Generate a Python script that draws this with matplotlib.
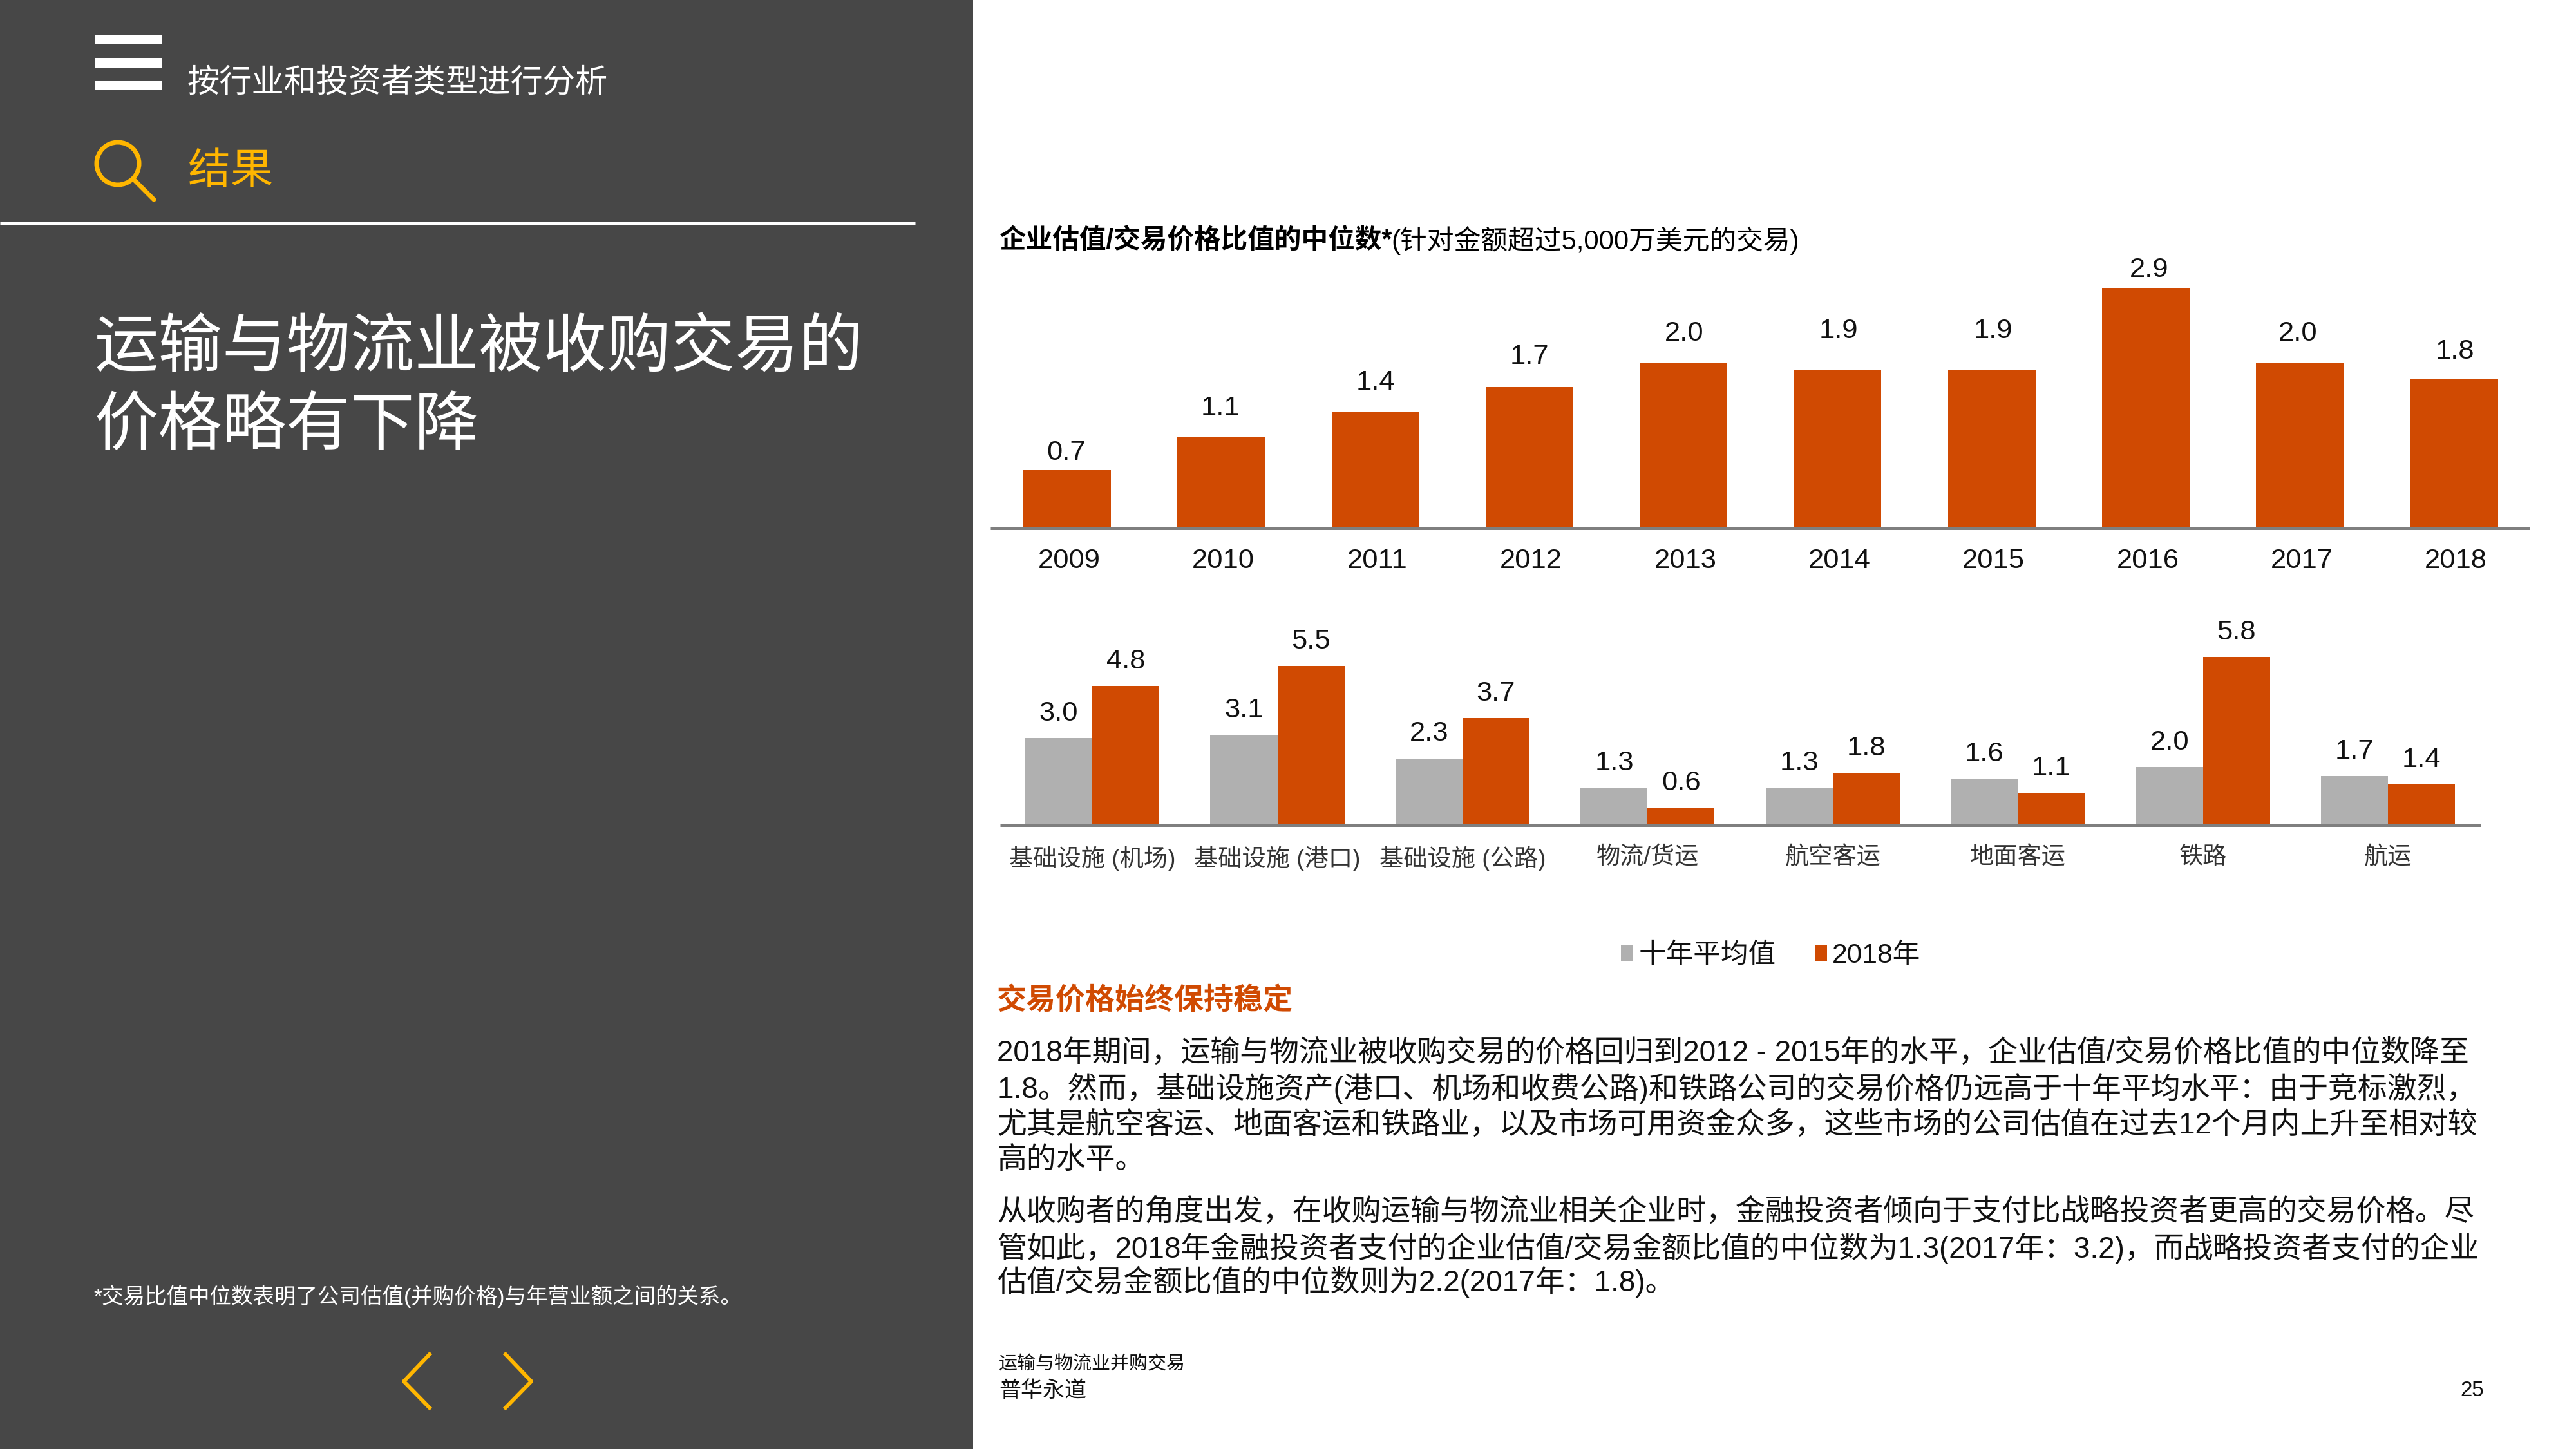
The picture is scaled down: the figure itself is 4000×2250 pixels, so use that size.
import matplotlib
matplotlib.use("Agg")
import matplotlib.pyplot as plt
from matplotlib.patches import Rectangle, Circle
from matplotlib.transforms import ScaledTranslation
import numpy as np

FONT = ['Liberation Sans', 'Noto Sans CJK SC', 'DejaVu Sans']
plt.rcParams['font.family'] = FONT

W, H = 4000, 2250
ORANGE = '#D04A02'
GREY = '#B0B0B0'
AXIS = '#7F7F7F'
DARK = '#474747'
YELLOW = '#FFB600'
INK = '#111111'

years = ['2009', '2010', '2011', '2012', '2013', '2014', '2015', '2016', '2017', '2018']
median_ratio = [0.7, 1.1, 1.4, 1.7, 2.0, 1.9, 1.9, 2.9, 2.0, 1.8]
# label placement relative to the bar top, in output pixels (layout only)
label_rise = [27, 44, 46, 47, 45, 61, 61, 28, 45, 42]
label_shift = [-1, -1, 0, 0, 1, 1, 2, 5, -3, 1]

sectors = ['基础设施 (机场)', '基础设施 (港口)', '基础设施 (公路)', '物流/货运',
           '航空客运', '地面客运', '铁路', '航运']
ten_year_avg = [3.0, 3.1, 2.3, 1.3, 1.3, 1.6, 2.0, 1.7]
year_2018 = [4.8, 5.5, 3.7, 0.6, 1.8, 1.1, 5.8, 1.4]
series_names = ['十年平均值', '2018年']

chart_title_bold = '企业估值/交易价格比值的中位数*'
chart_title_rest = '(针对金额超过5,000万美元的交易)'
nav_title = '按行业和投资者类型进行分析'
section_title = '结果'
main_title = ['运输与物流业被收购交易的', '价格略有下降']
footnote = '*交易比值中位数表明了公司估值(并购价格)与年营业额之间的关系。'
heading = '交易价格始终保持稳定'
body_lines = [
    '2018年期间，运输与物流业被收购交易的价格回归到2012 - 2015年的水平，企业估值/交易价格比值的中位数降至',
    '1.8。然而，基础设施资产(港口、机场和收费公路)和铁路公司的交易价格仍远高于十年平均水平：由于竞标激烈，',
    '尤其是航空客运、地面客运和铁路业，以及市场可用资金众多，这些市场的公司估值在过去12个月内上升至相对较',
    '高的水平。',
    '从收购者的角度出发，在收购运输与物流业相关企业时，金融投资者倾向于支付比战略投资者更高的交易价格。尽',
    '管如此，2018年金融投资者支付的企业估值/交易金额比值的中位数为1.3(2017年：3.2)，而战略投资者支付的企业',
    '估值/交易金额比值的中位数则为2.2(2017年：1.8)。',
]
body_y = [1636, 1690, 1748, 1802, 1883, 1938, 1990]
footer_source = '运输与物流业并购交易'
footer_brand = '普华永道'
page_no = '25'

fig = plt.figure(figsize=(W / 100, H / 100), dpi=100, facecolor='white')


def px(v):
    return v * 0.72


bg = fig.add_axes([0, 0, 1, 1], zorder=0)
bg.set_xlim(0, W)
bg.set_ylim(H, 0)
bg.axis('off')


def T(x, y, s, size, color=INK, weight='normal', ha='left', va='center'):
    return bg.text(x, y, s, fontsize=px(size), color=color, weight=weight,
                   ha=ha, va=va, family=FONT)


# Left panel
bg.add_patch(Rectangle((0, 0), 1511, H, facecolor=DARK, edgecolor='none'))
for top in (54, 90, 125):
    bg.add_patch(Rectangle((148, top), 103, 15, facecolor='white', edgecolor='none'))
T(290, 130, nav_title, 50.2, color='white')
bg.add_patch(Circle((183, 254), 33, facecolor='none', edgecolor=YELLOW, linewidth=px(7)))
bg.plot([208, 239], [279, 310], color=YELLOW, lw=px(7), solid_capstyle='round')
T(292, 268, section_title, 66, color=YELLOW, weight='light')
bg.plot([0, 1421], [345.5, 345.5], color='white', lw=px(5), solid_capstyle='butt')
T(146, 543, main_title[0], 99.5, color='white', weight='light')
T(146, 664, main_title[1], 99.5, color='white', weight='light')
T(146, 2013, footnote, 33.5, color='white')
bg.plot([667, 627, 667], [2103, 2145, 2186], color=YELLOW, lw=px(6))
bg.plot([785, 825, 785], [2103, 2145, 2186], color=YELLOW, lw=px(6))

# Chart title
T(1551, 374, chart_title_bold, 41.6, color='black', weight='bold')
T(2160, 374, chart_title_rest, 41.8, color='black')


def chart_axes(left, right, top, base):
    ax = fig.add_axes([left / W, 1 - base / H, (right - left) / W, (base - top) / H], zorder=1)
    ax.patch.set_alpha(0)
    for s in ('top', 'left', 'right'):
        ax.spines[s].set_visible(False)
    ax.spines['bottom'].set_color(AXIS)
    ax.spines['bottom'].set_linewidth(px(5))
    ax.spines['bottom'].set_capstyle('butt')
    ax.set_yticks([])
    return ax


# Top chart
ax1 = chart_axes(1538, 3928, 400, 820)
x1 = np.arange(len(years))
ax1.set_xlim(-0.497, 9.49)
ax1.set_ylim(0, 420 / 128.7)
bars1 = ax1.bar(x1, median_ratio, width=0.568, color=ORANGE)
for xi, v, r, s in zip(x1, median_ratio, label_rise, label_shift):
    ax1.annotate(f'{v:.1f}', (xi, v), xytext=(px(s), px(r)), textcoords='offset points',
                 ha='center', va='center', fontsize=px(43.5), color=INK)
ax1.set_xticks(x1, years)
ax1.tick_params(axis='x', length=0, pad=px(31), labelsize=px(43.5), labelcolor=INK)
shift = ScaledTranslation(px(3) / 72, 0, fig.dpi_scale_trans)
for lab in ax1.get_xticklabels():
    lab.set_transform(lab.get_transform() + shift)

# Bottom chart
ax2 = chart_axes(1553, 3852, 950, 1281)
x2 = np.arange(len(sectors))
ax2.set_xlim(-0.4976, 7.5)
ax2.set_ylim(0, 331 / 45.0)
bw = 0.362
bars_a = ax2.bar(x2 - bw / 2, ten_year_avg, width=bw, color=GREY, label=series_names[0])
bars_b = ax2.bar(x2 + bw / 2, year_2018, width=bw, color=ORANGE, label=series_names[1])
for xi, a, b in zip(x2, ten_year_avg, year_2018):
    for off, v in ((-bw / 2, a), (bw / 2, b)):
        ax2.annotate(f'{v:.1f}', (xi + off, v), xytext=(0, px(38)), textcoords='offset points',
                     ha='center', va='center', fontsize=px(43.5), color=INK)
ax2.set_xticks(x2, sectors)
ax2.tick_params(axis='x', length=0, pad=px(33), labelsize=px(37.2), labelcolor='#333333')

fig.legend(handles=[bars_a, bars_b], labels=series_names, loc='center left',
           bbox_to_anchor=(2517 / W, 1 - 1484 / H), ncol=2, frameon=False,
           fontsize=px(42.6), handlelength=0.45, handleheight=0.52, handletextpad=0.19,
           columnspacing=1.42, borderpad=0, borderaxespad=0, labelcolor=INK)

# Commentary
T(1548, 1555, heading, 46, color=ORANGE, weight='bold')
for y, line in zip(body_y, body_lines):
    T(1548, y, line, 45.9, color=INK)

# Footer
T(1551, 2118, footer_source, 29, color=INK)
T(1551, 2160, footer_brand, 34, color=INK)
T(3857, 2160, page_no, 33, color=INK, ha='right')

fig.savefig('out.png', dpi=100, facecolor='white')
